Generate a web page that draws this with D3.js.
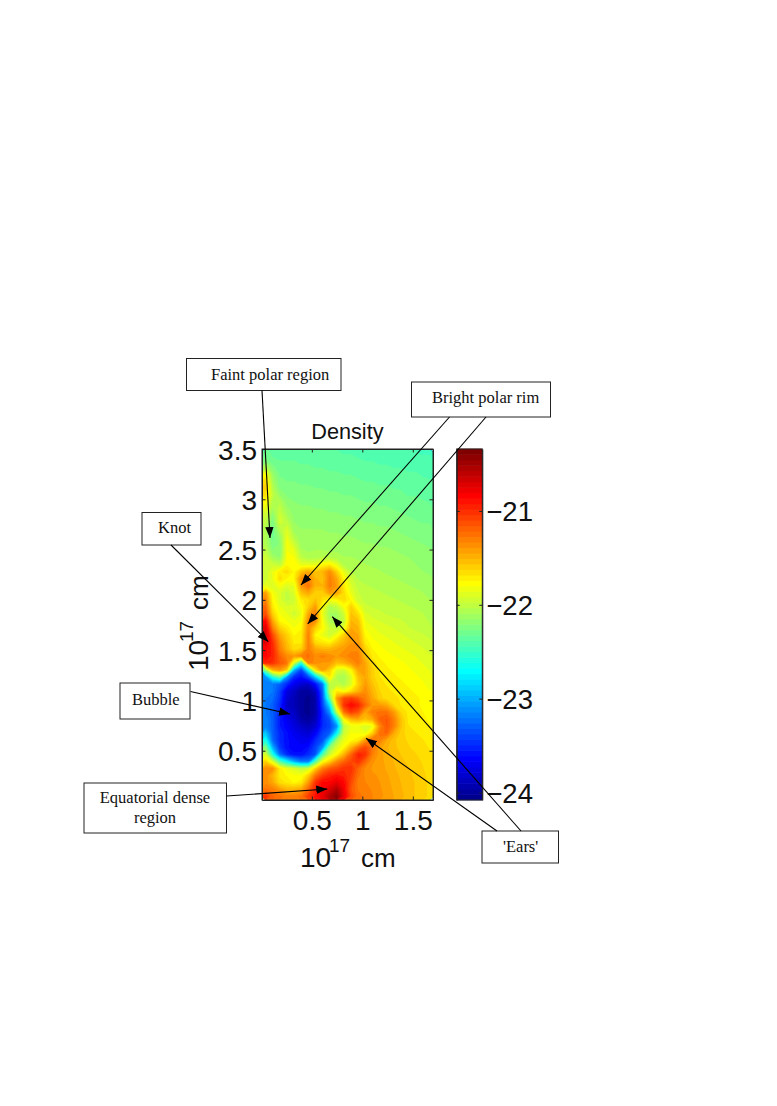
<!DOCTYPE html>
<html>
<head>
<meta charset="utf-8">
<script src="https://cdn.jsdelivr.net/npm/d3@7"></script>
<style>
	html, body { margin: 0; padding: 0; background: #fff; }
	svg { display: block; }
	.sans { font-family: "Liberation Sans", Arial, sans-serif; fill: #111; }
	.serif { font-family: "Liberation Serif", "Times New Roman", serif; fill: #111; font-size: 16.5px; }
</style>
</head>
<body>
<svg id="chart" width="777" height="1106"></svg>
<script>
// log10 density, sign dropped. top row first, 24 columns by 50 rows
var densityRows = [
	[22.30,22.34,22.35,22.35,22.35,22.36,22.36,22.37,22.37,22.38,22.38,22.39,22.39,22.40,22.41,22.41,22.42,22.42,22.43,22.43,22.44,22.44,22.45,22.45],
	[22.25,22.32,22.33,22.33,22.33,22.34,22.34,22.35,22.35,22.36,22.36,22.37,22.37,22.38,22.39,22.39,22.40,22.40,22.41,22.41,22.42,22.42,22.43,22.43],
	[22.05,22.25,22.30,22.31,22.31,22.32,22.32,22.33,22.33,22.34,22.34,22.35,22.35,22.36,22.37,22.37,22.38,22.38,22.39,22.39,22.40,22.40,22.41,22.41],
	[21.80,22.15,22.28,22.29,22.29,22.30,22.30,22.31,22.31,22.32,22.32,22.33,22.33,22.34,22.35,22.35,22.36,22.36,22.37,22.37,22.38,22.38,22.39,22.40],
	[21.65,22.10,22.25,22.27,22.27,22.28,22.28,22.29,22.29,22.30,22.30,22.31,22.31,22.32,22.33,22.33,22.34,22.34,22.35,22.35,22.36,22.37,22.38,22.38],
	[21.60,22.05,22.22,22.25,22.25,22.26,22.26,22.27,22.27,22.28,22.28,22.29,22.29,22.30,22.31,22.31,22.32,22.32,22.33,22.33,22.34,22.35,22.36,22.36],
	[21.65,22.00,22.15,22.22,22.23,22.24,22.24,22.25,22.25,22.26,22.26,22.27,22.27,22.28,22.29,22.29,22.30,22.30,22.31,22.32,22.33,22.33,22.34,22.34],
	[21.75,22.05,22.05,22.18,22.21,22.22,22.22,22.23,22.23,22.24,22.24,22.25,22.25,22.26,22.27,22.27,22.28,22.28,22.29,22.30,22.31,22.31,22.32,22.33],
	[21.85,22.10,22.00,22.13,22.19,22.20,22.20,22.21,22.21,22.22,22.22,22.23,22.23,22.24,22.25,22.25,22.26,22.26,22.27,22.28,22.29,22.30,22.30,22.31],
	[21.95,22.20,21.95,22.08,22.17,22.18,22.18,22.19,22.19,22.20,22.20,22.21,22.21,22.22,22.23,22.23,22.24,22.24,22.25,22.26,22.27,22.28,22.29,22.29],
	[22.00,22.25,21.95,22.00,22.15,22.16,22.16,22.17,22.17,22.18,22.18,22.19,22.19,22.20,22.21,22.21,22.22,22.22,22.23,22.24,22.25,22.26,22.27,22.27],
	[22.05,22.30,22.05,21.90,22.12,22.15,22.15,22.15,22.15,22.16,22.16,22.17,22.17,22.18,22.19,22.19,22.20,22.20,22.21,22.22,22.23,22.24,22.25,22.25],
	[22.05,22.30,22.15,21.85,22.05,22.13,22.13,22.13,22.13,22.14,22.14,22.15,22.15,22.16,22.17,22.17,22.18,22.18,22.19,22.20,22.21,22.22,22.23,22.24],
	[22.05,22.25,22.20,21.80,21.95,22.12,22.11,22.11,22.11,22.12,22.12,22.13,22.13,22.14,22.15,22.15,22.16,22.16,22.17,22.18,22.19,22.20,22.21,22.22],
	[22.00,22.20,22.20,21.80,21.85,22.08,22.10,22.09,22.09,22.10,22.10,22.11,22.11,22.12,22.13,22.13,22.14,22.14,22.15,22.16,22.17,22.18,22.19,22.20],
	[21.95,22.10,22.15,21.80,21.80,22.00,22.06,22.05,22.02,22.02,22.05,22.09,22.09,22.10,22.11,22.11,22.12,22.12,22.13,22.14,22.15,22.16,22.17,22.19],
	[21.95,21.95,22.00,21.75,21.75,21.85,21.85,21.85,21.75,21.70,21.85,22.05,22.07,22.08,22.09,22.10,22.10,22.11,22.12,22.13,22.14,22.15,22.16,22.17],
	[21.95,21.85,21.70,21.65,21.75,21.55,21.45,21.55,21.50,21.35,21.60,21.85,22.03,22.06,22.07,22.08,22.09,22.10,22.11,22.12,22.13,22.14,22.15,22.16],
	[21.95,21.85,21.65,21.75,21.75,21.35,21.30,21.50,21.55,21.30,21.45,21.75,21.95,22.04,22.05,22.06,22.07,22.08,22.09,22.10,22.11,22.12,22.13,22.14],
	[21.85,21.90,21.80,21.90,21.85,21.40,21.25,21.50,21.50,21.30,21.40,21.70,21.90,22.00,22.03,22.04,22.05,22.06,22.07,22.08,22.09,22.10,22.11,22.12],
	[21.40,21.80,21.90,22.00,21.90,21.55,21.45,21.60,21.60,21.40,21.45,21.65,21.85,21.97,22.01,22.02,22.03,22.04,22.05,22.06,22.07,22.08,22.09,22.11],
	[21.30,21.75,21.90,22.00,21.95,21.70,21.65,21.55,21.65,21.80,21.75,21.65,21.75,21.95,21.99,22.00,22.01,22.02,22.03,22.04,22.05,22.06,22.07,22.09],
	[21.20,21.70,21.85,21.90,21.90,21.80,21.60,21.40,21.80,22.05,22.00,21.80,21.60,21.80,21.96,21.98,21.99,22.00,22.01,22.02,22.03,22.04,22.05,22.07],
	[21.10,21.60,21.80,21.85,21.95,21.85,21.45,21.30,21.85,22.10,22.10,21.95,21.55,21.65,21.90,21.94,21.96,21.98,21.99,22.00,22.01,22.02,22.03,22.05],
	[20.85,21.45,21.75,21.80,21.85,21.80,21.35,21.35,21.80,22.05,22.10,22.00,21.50,21.55,21.85,21.90,21.92,21.94,21.96,21.97,21.99,22.00,22.01,22.04],
	[20.70,21.30,21.60,21.70,21.80,21.75,21.35,21.60,21.75,21.95,22.00,21.85,21.45,21.50,21.80,21.85,21.88,21.90,21.92,21.94,21.97,21.99,22.00,22.02],
	[20.65,21.10,21.45,21.60,21.75,21.70,21.30,21.75,21.85,21.95,21.80,21.60,21.40,21.45,21.75,21.82,21.85,21.87,21.89,21.91,21.93,21.95,21.97,21.99],
	[20.70,21.00,21.35,21.55,21.70,21.70,21.30,21.65,21.70,21.75,21.60,21.50,21.40,21.40,21.70,21.78,21.81,21.84,21.86,21.88,21.90,21.92,21.94,21.96],
	[20.85,20.95,21.30,21.50,21.65,21.60,21.30,21.45,21.50,21.50,21.45,21.40,21.35,21.35,21.60,21.74,21.78,21.81,21.83,21.85,21.87,21.89,21.91,21.94],
	[20.85,20.95,21.20,21.35,21.40,21.30,21.25,21.35,21.30,21.35,21.40,21.35,21.30,21.30,21.55,21.70,21.75,21.78,21.80,21.82,21.84,21.86,21.88,21.91],
	[20.95,21.00,21.15,21.25,21.90,22.60,21.30,21.35,21.40,21.40,21.55,21.50,21.40,21.30,21.45,21.65,21.72,21.75,21.77,21.79,21.81,21.83,21.86,21.88],
	[22.20,21.50,21.40,21.60,23.00,23.40,22.70,21.70,21.40,21.60,21.90,21.95,21.75,21.45,21.45,21.60,21.70,21.73,21.75,21.77,21.79,21.81,21.83,21.86],
	[23.10,22.60,22.30,23.10,23.50,23.60,23.40,22.90,22.30,21.70,22.05,22.10,21.90,21.55,21.45,21.60,21.68,21.71,21.73,21.75,21.77,21.79,21.81,21.84],
	[23.20,23.20,23.30,23.50,23.70,23.80,23.85,23.60,23.20,22.00,22.00,22.05,21.90,21.60,21.40,21.55,21.65,21.69,21.71,21.73,21.75,21.77,21.79,21.82],
	[23.20,23.20,23.40,23.75,23.85,24.00,24.00,23.85,23.30,22.00,21.70,21.80,21.65,21.50,21.35,21.50,21.62,21.67,21.69,21.71,21.73,21.75,21.77,21.80],
	[23.20,23.25,23.45,23.80,23.90,24.00,24.05,23.95,23.35,22.30,21.40,21.10,21.05,21.15,21.30,21.45,21.60,21.65,21.67,21.69,21.71,21.73,21.75,21.78],
	[23.20,23.30,23.50,23.85,23.90,24.00,24.05,23.95,23.40,22.80,21.60,21.00,20.85,20.95,21.20,21.40,21.40,21.45,21.62,21.69,21.71,21.73,21.75,21.77],
	[23.20,23.30,23.50,23.80,23.85,24.00,24.05,23.95,23.50,23.10,22.00,21.25,21.05,21.15,21.45,21.30,21.25,21.25,21.40,21.62,21.70,21.72,21.74,21.76],
	[23.15,23.30,23.55,23.70,23.80,23.95,24.00,23.90,23.50,23.35,22.70,21.75,21.50,21.45,21.55,21.45,21.20,21.15,21.30,21.55,21.69,21.71,21.73,21.75],
	[23.15,23.30,23.55,23.65,23.75,23.85,23.90,23.80,23.50,23.40,23.10,22.00,21.85,21.85,21.90,21.85,21.35,21.15,21.30,21.55,21.68,21.70,21.72,21.74],
	[22.90,23.30,23.50,23.60,23.70,23.75,23.80,23.65,23.40,23.30,22.70,21.95,21.80,21.80,21.85,21.60,21.25,21.20,21.45,21.60,21.65,21.68,21.70,21.72],
	[22.60,23.25,23.50,23.60,23.65,23.70,23.70,23.50,23.35,22.80,22.10,21.85,21.75,21.70,21.40,21.20,21.30,21.45,21.55,21.61,21.63,21.66,21.68,21.70],
	[22.20,23.00,23.45,23.60,23.65,23.65,23.60,23.40,23.10,22.20,21.90,21.75,21.50,21.25,21.10,21.25,21.42,21.50,21.55,21.59,21.62,21.64,21.66,21.69],
	[21.90,22.60,23.25,23.50,23.60,23.60,23.50,23.35,22.40,21.95,21.75,21.50,21.20,20.95,21.00,21.30,21.42,21.48,21.53,21.57,21.60,21.62,21.65,21.67],
	[21.60,21.90,22.40,22.70,23.00,23.20,23.20,22.40,21.80,21.60,21.35,21.20,21.10,21.00,21.20,21.38,21.42,21.47,21.51,21.55,21.58,21.60,21.63,21.66],
	[21.35,21.35,21.70,21.85,21.90,22.00,21.95,21.60,21.30,21.15,21.10,21.00,21.00,21.20,21.35,21.40,21.41,21.46,21.50,21.53,21.56,21.59,21.62,21.65],
	[21.35,21.50,21.70,21.75,21.80,21.80,21.60,21.25,21.05,20.95,20.90,20.95,21.05,21.25,21.35,21.38,21.40,21.44,21.48,21.52,21.55,21.58,21.61,21.64],
	[21.35,21.45,21.65,21.70,21.75,21.70,21.40,21.00,20.85,20.85,20.75,20.85,21.10,21.30,21.33,21.36,21.39,21.43,21.47,21.51,21.54,21.57,21.60,21.64],
	[21.25,21.30,21.40,21.50,21.50,21.45,21.20,20.95,20.80,20.70,20.55,20.80,21.15,21.28,21.31,21.34,21.38,21.42,21.46,21.50,21.54,21.57,21.60,21.64],
	[21.00,21.20,21.25,21.30,21.30,21.25,21.05,20.90,20.75,20.55,20.40,20.75,21.10,21.25,21.29,21.33,21.37,21.41,21.45,21.49,21.53,21.57,21.60,21.64]
];

var xTicks = [0.5, 1, 1.5];
var yTicks = [0.5, 1, 1.5, 2, 2.5, 3, 3.5];
var colorTicks = [-24, -23, -22, -21];
var colorRange = [-24.08, -20.34];
var levelCount = 64;

var notes = [
	{ lines: ["Faint polar region"], box: [186.5, 358.5, 154.5, 32], textX: 211, textY: [380] },
	{ lines: ["Bright polar rim"], box: [411.5, 382, 139, 35], textX: 432, textY: [402.5] },
	{ lines: ["Knot"], box: [142, 512.5, 59, 32.5], textX: 158, textY: [533] },
	{ lines: ["Bubble"], box: [120, 683, 70, 36], textX: 132, textY: [705] },
	{ lines: ["Equatorial dense", "region"], box: [84, 783, 142.5, 50], textX: 155, textY: [803, 823], middle: true },
	{ lines: ["'Ears'"], box: [482, 831, 76.5, 32], textX: 503, textY: [852] }
];
var arrows = [
	[262, 390.5, 270, 538],
	[449.5, 417, 301, 585],
	[486, 417, 307.7, 624],
	[171, 545, 268.3, 641.7],
	[190.5, 691.5, 290, 714],
	[226.5, 796, 327.3, 789],
	[521, 831, 332.3, 616.7],
	[497, 831, 366, 738.3]
];

var plot = { left: 262, right: 433, top: 449, bottom: 800 };
var bar = { left: 456.7, right: 482.3 };

var svg = d3.select("#chart");

function jet(k) {
	var t = (k + 1) / levelCount;
	function ch(c) { return Math.round(255 * Math.max(0, Math.min(1, 1.5 - Math.abs(4 * t - c)))); }
	return d3.rgb(ch(3), ch(2), ch(1)).formatHex();
}

var defs = svg.append("defs");
defs.append("clipPath").attr("id", "plotClip").append("rect")
	.attr("x", plot.left).attr("y", plot.top)
	.attr("width", plot.right - plot.left).attr("height", plot.bottom - plot.top);
defs.append("filter").attr("id", "soft")
	.append("feGaussianBlur").attr("stdDeviation", 0.7);
defs.append("marker").attr("id", "head")
	.attr("markerUnits", "userSpaceOnUse")
	.attr("markerWidth", 12).attr("markerHeight", 10)
	.attr("refX", 11).attr("refY", 5)
	.attr("orient", "auto")
	.append("path").attr("d", "M0,0.8L11,5L0,9.2Z").attr("fill", "#000");

// heat map, isobands over the grid
var nx = densityRows[0].length, ny = densityRows.length;
var gridX = d3.scaleLinear([0, nx], [plot.left, plot.right]);
var gridY = d3.scaleLinear([0, ny], [plot.top, plot.bottom]);
var values = [];
densityRows.forEach(function (row) {
	row.forEach(function (d) { values.push(-d); });
});
var levels = d3.range(levelCount).map(function (k) {
	return colorRange[0] + k * (colorRange[1] - colorRange[0]) / levelCount;
});
var bands = d3.contours().size([nx, ny]).thresholds(levels)(values);
var gridPath = d3.geoPath(d3.geoTransform({
	point: function (x, y) { this.stream.point(gridX(x), gridY(y)); }
}));

svg.append("g")
	.attr("clip-path", "url(#plotClip)")
	.append("g")
	.attr("filter", "url(#soft)")
	.selectAll("path")
	.data(bands)
	.join("path")
	.attr("d", gridPath)
	.attr("fill", function (d, i) { return jet(i); });

// axes
var x = d3.scaleLinear([0.0065, 1.7], [plot.left, plot.right]);
var y = d3.scaleLinear([0.01, 3.5], [plot.bottom, plot.top]);
var c = d3.scaleLinear(colorRange, [plot.bottom, plot.top]);

function styleAxis(g, size) {
	g.selectAll("path").attr("stroke", "#222").attr("stroke-width", 1);
	g.selectAll("line").attr("stroke", "#222").attr("stroke-width", 1);
	g.selectAll("text").attr("class", "sans").attr("font-size", size).attr("fill", "#111");
}

svg.append("g").attr("transform", "translate(0," + plot.bottom + ")")
	.call(d3.axisBottom(x).tickValues(xTicks).tickFormat(d3.format("")).tickSizeInner(-3.5).tickSizeOuter(0).tickPadding(10))
	.call(styleAxis, 28);
svg.append("g").attr("transform", "translate(0," + plot.top + ")")
	.call(d3.axisTop(x).tickValues(xTicks).tickFormat("").tickSizeInner(-3.5).tickSizeOuter(0))
	.call(styleAxis, 28);
svg.append("g").attr("transform", "translate(" + plot.left + ",0)")
	.call(d3.axisLeft(y).tickValues(yTicks).tickFormat(d3.format("")).tickSizeInner(-3.5).tickSizeOuter(0).tickPadding(5))
	.call(styleAxis, 28)
	.selectAll("text").attr("dy", "0.36em");
svg.append("g").attr("transform", "translate(" + plot.right + ",0)")
	.call(d3.axisRight(y).tickValues(yTicks).tickFormat("").tickSizeInner(-3.5).tickSizeOuter(0))
	.call(styleAxis, 28);

// colorbar
var barBands = d3.scaleBand(d3.range(levelCount), [plot.bottom, plot.top]);
svg.append("g").selectAll("rect")
	.data(d3.range(levelCount))
	.join("rect")
	.attr("x", bar.left)
	.attr("y", function (k) { return barBands(k) - 0.3; })
	.attr("width", bar.right - bar.left)
	.attr("height", barBands.bandwidth() + 0.6)
	.attr("fill", jet);
svg.append("g").attr("transform", "translate(" + bar.right + ",0)")
	.call(d3.axisRight(c).tickValues(colorTicks).tickFormat(d3.format("d")).tickSizeInner(-3).tickSizeOuter(0).tickPadding(4))
	.call(styleAxis, 27.5)
	.selectAll("text").attr("dy", "0.36em");
svg.append("g").attr("transform", "translate(" + bar.left + ",0)")
	.call(d3.axisLeft(c).tickValues(colorTicks).tickFormat("").tickSizeInner(-3).tickSizeOuter(0))
	.call(styleAxis, 28);
svg.append("rect")
	.attr("x", bar.left).attr("y", plot.top)
	.attr("width", bar.right - bar.left).attr("height", plot.bottom - plot.top)
	.attr("fill", "none").attr("stroke", "#222");
svg.append("rect")
	.attr("x", plot.left).attr("y", plot.top)
	.attr("width", plot.right - plot.left).attr("height", plot.bottom - plot.top)
	.attr("fill", "none").attr("stroke", "#222");

// title and axis labels
svg.append("text").attr("class", "sans")
	.attr("x", 347.4).attr("y", 439).attr("text-anchor", "middle")
	.attr("font-size", 21.7).text("Density");

function powerLabel(g) {
	g.append("text").attr("class", "sans").attr("x", 0).attr("y", 0).attr("font-size", 28).text("10");
	g.append("text").attr("class", "sans").attr("x", 29).attr("y", -15).attr("font-size", 19).text("17");
	g.append("text").attr("class", "sans").attr("x", 61).attr("y", 0).attr("font-size", 26).text("cm");
}
svg.append("g").attr("transform", "translate(300,866.5)").call(powerLabel);
svg.append("g").attr("transform", "translate(208,671) rotate(-90)").call(powerLabel);

// annotations
var noteBoxes = svg.append("g").selectAll("g").data(notes).join("g");
noteBoxes.append("rect")
	.attr("x", function (d) { return d.box[0]; })
	.attr("y", function (d) { return d.box[1]; })
	.attr("width", function (d) { return d.box[2]; })
	.attr("height", function (d) { return d.box[3]; })
	.attr("fill", "#fff").attr("stroke", "#222").attr("stroke-width", 1);
noteBoxes.each(function (d) {
	var g = d3.select(this);
	d.lines.forEach(function (line, i) {
		g.append("text").attr("class", "serif")
			.attr("x", d.textX).attr("y", d.textY[i])
			.attr("text-anchor", d.middle ? "middle" : "start")
			.text(line);
	});
});

svg.append("g").selectAll("line").data(arrows).join("line")
	.attr("x1", function (d) { return d[0]; })
	.attr("y1", function (d) { return d[1]; })
	.attr("x2", function (d) { return d[2]; })
	.attr("y2", function (d) { return d[3]; })
	.attr("stroke", "#000").attr("stroke-width", 1.1)
	.attr("marker-end", "url(#head)");
</script>
</body>
</html>
